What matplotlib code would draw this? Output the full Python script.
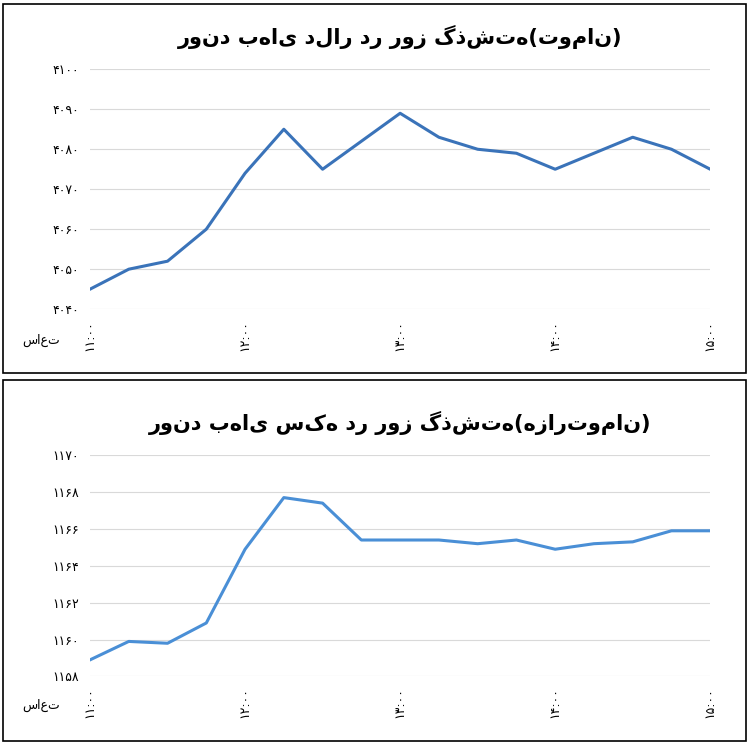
import matplotlib.pyplot as plt

plt.rcParams['font.family'] = ['DejaVu Sans']

# 15-minute steps from 11:00 to 15:00
hour_labels = ["۱۱:۰۰", "۱۲:۰۰", "۱۳:۰۰", "۱۴:۰۰", "۱۵:۰۰"]
dollar = [4045, 4050, 4052, 4060, 4074, 4085, 4075, 4082, 4089, 4083,
          4080, 4079, 4075, 4079, 4083, 4080, 4075]
coin = [1158.9, 1159.9, 1159.8, 1160.9, 1164.9, 1167.7, 1167.4, 1165.4,
        1165.4, 1165.4, 1165.2, 1165.4, 1164.9, 1165.2, 1165.3, 1165.9, 1165.9]
dollar_ticks = [4040, 4050, 4060, 4070, 4080, 4090, 4100]
coin_ticks = [1158, 1160, 1162, 1164, 1166, 1168, 1170]
title_dollar = "روند بهای دلار در روز گذشته(تومان)"
title_coin = "روند بهای سکه در روز گذشته(هزارتومان)"
hour_word = "ساعت"

FA = str.maketrans("0123456789", "۰۱۲۳۴۵۶۷۸۹")

fig = plt.figure(figsize=(7.5, 7.45), dpi=100)


def panel(rect, box, values, ticks, title, color):
    fig.patches.append(plt.Rectangle(box[:2], box[2], box[3], transform=fig.transFigure,
                                     fill=False, edgecolor="black", linewidth=1.2))
    ax = fig.add_axes(rect)
    x = list(range(len(values)))
    ax.plot(x, values, color=color, linewidth=2.2)
    ax.set_xlim(0, len(values) - 1)
    ax.set_ylim(ticks[0], ticks[-1])
    ax.set_yticks(ticks)
    ax.set_yticklabels([str(t).translate(FA) for t in ticks], fontsize=9)
    ax.set_xticks(range(0, len(values), 4))
    ax.set_xticklabels(hour_labels, rotation=90, fontsize=9)
    ax.grid(axis="y", color="#d9d9d9", linewidth=0.8)
    for s in ax.spines.values():
        s.set_visible(False)
    ax.tick_params(length=0, pad=8)
    ax.set_title(title, fontsize=15, fontweight="bold", pad=18)
    ax.text(-0.078, -0.13, hour_word, transform=ax.transAxes, fontsize=9,
            ha="center", va="center")
    return ax


panel([0.12, 0.585, 0.827, 0.322], [0.004, 0.50, 0.99, 0.495], dollar, dollar_ticks,
      title_dollar, "#3a73b9")
panel([0.12, 0.092, 0.827, 0.297], [0.004, 0.005, 0.99, 0.485], coin, coin_ticks,
      title_coin, "#4a8fd6")

fig.savefig("out.png", dpi=100)
